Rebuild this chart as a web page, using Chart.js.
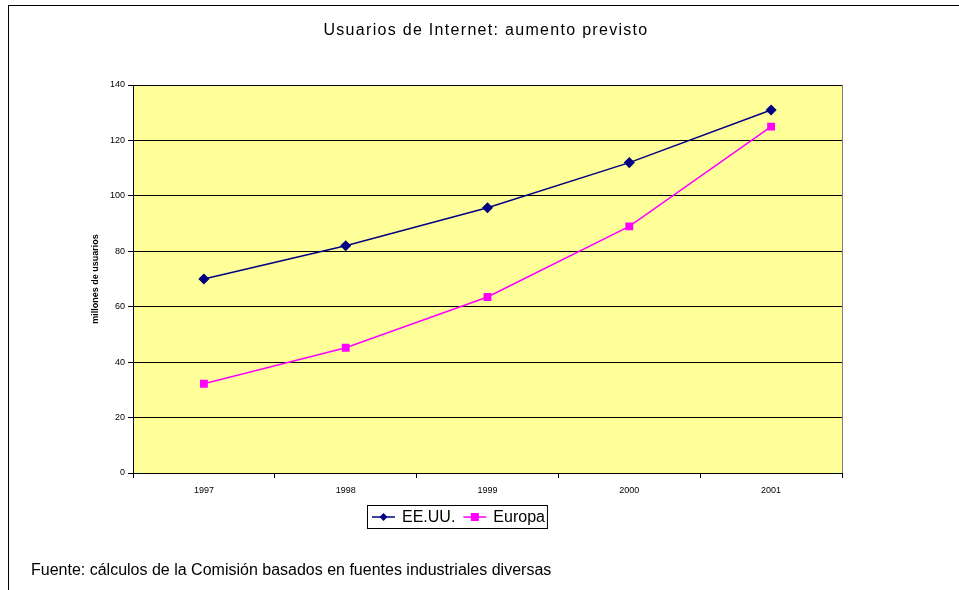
<!DOCTYPE html>
<html>
<head>
<meta charset="utf-8">
<script src="https://cdn.jsdelivr.net/npm/chart.js@4"></script>
<style>
  html, body { margin: 0; padding: 0; background: #fff; }
  #wrap { width: 959px; height: 590px; }
</style>
</head>
<body>
<div id="wrap"><canvas id="chart" width="959" height="590"></canvas></div>
<script>
const years = ['1997', '1998', '1999', '2000', '2001'];
const usa = [70, 82, 95.7, 112, 131];
const europa = [32.2, 45.2, 63.5, 89, 125];
const title = 'Usuarios de Internet: aumento previsto';
const yTitle = 'millones de usuarios';
const source = 'Fuente: cálculos de la Comisión basados en fuentes industriales diversas';

const FONT = 'Arial, "Liberation Sans", sans-serif';

// background, border, title, legend and source note
const decor = {
    id: 'decor',
    beforeDraw(chart) {
        const { ctx, chartArea: a } = chart;
        ctx.save();
        ctx.fillStyle = '#fff';
        ctx.fillRect(0, 0, chart.width, chart.height);
        ctx.strokeStyle = '#000';
        ctx.lineWidth = 1;
        ctx.strokeRect(8.5, 5.5, 1000, 1000);
        ctx.fillStyle = '#FFFF99';
        ctx.fillRect(a.left, a.top, a.right - a.left, a.bottom - a.top);
        ctx.restore();
    },
    afterDraw(chart) {
        const { ctx, chartArea: a } = chart;
        ctx.save();
        // plot frame right side
        ctx.strokeStyle = '#808080';
        ctx.beginPath();
        ctx.moveTo(Math.round(a.right) + 0.5, a.top);
        ctx.lineTo(Math.round(a.right) + 0.5, a.bottom);
        ctx.stroke();

        ctx.fillStyle = '#000';
        ctx.font = '16px ' + FONT;
        ctx.letterSpacing = '1.3px';
        ctx.textAlign = 'center';
        ctx.textBaseline = 'middle';
        ctx.fillText(title, 486, 31);
        ctx.letterSpacing = '0px';

        ctx.font = '16px ' + FONT;
        ctx.textAlign = 'left';
        ctx.fillText(source, 31, 571);

        // legend
        ctx.font = '16px ' + FONT;
        const bx = 367, by = 505, bh = 23;
        let x = bx + 5;
        const cy = by + bh / 2 + 0.5;
        const items = chart.data.datasets.map(ds => ({ ds, w: ctx.measureText(ds.label).width }));
        const bw = items.reduce((s, it) => s + 30 + it.w + 8, 0) - 1;
        ctx.strokeStyle = '#000';
        ctx.lineWidth = 1;
        ctx.strokeRect(bx + 0.5, by + 0.5, bw, bh);
        items.forEach(({ ds, w }) => {
            ctx.strokeStyle = ds.borderColor;
            ctx.lineWidth = 1.5;
            ctx.beginPath();
            ctx.moveTo(x, cy);
            ctx.lineTo(x + 23, cy);
            ctx.stroke();
            ctx.fillStyle = ds.pointBackgroundColor;
            const mx = x + 11.5;
            if (ds.pointStyle === 'rectRot') {
                ctx.beginPath();
                ctx.moveTo(mx, cy - 4);
                ctx.lineTo(mx + 4, cy);
                ctx.lineTo(mx, cy + 4);
                ctx.lineTo(mx - 4, cy);
                ctx.closePath();
                ctx.fill();
            } else {
                ctx.fillRect(mx - 4, cy - 4, 8, 8);
            }
            ctx.fillStyle = '#000';
            ctx.fillText(ds.label, x + 30, cy + 1);
            x += 30 + w + 8;
        });
        ctx.restore();
    }
};

new Chart(document.getElementById('chart'), {
    type: 'line',
    data: {
        labels: years,
        datasets: [
            { label: 'EE.UU.', data: usa, borderColor: '#000080', backgroundColor: '#000080',
              pointBackgroundColor: '#000080', pointBorderColor: '#000080', pointStyle: 'rectRot',
              pointRadius: 4.5, borderWidth: 1.5, tension: 0 },
            { label: 'Europa', data: europa, borderColor: '#FF00FF', backgroundColor: '#FF00FF',
              pointBackgroundColor: '#FF00FF', pointBorderColor: '#FF00FF', pointStyle: 'rect',
              pointRadius: 4.5, borderWidth: 1.5, tension: 0 }
        ]
    },
    options: {
        responsive: false,
        animation: false,
        devicePixelRatio: 1,
        layout: { padding: { left: 86, right: 117, top: 85, bottom: 87 } },
        plugins: { legend: { display: false }, title: { display: false }, tooltip: { enabled: false } },
        scales: {
            x: {
                offset: true,
                grid: { offset: true, drawOnChartArea: false, tickLength: 5, color: '#000' },
                border: { color: '#000' },
                ticks: { color: '#000', font: { family: FONT, size: 9 }, padding: 7, maxRotation: 0 },
                afterFit(s) { s.height = 30; }
            },
            y: {
                min: 0, max: 140,
                grid: { color: '#000', tickLength: 5 },
                border: { color: '#000' },
                ticks: { stepSize: 20, color: '#000', font: { family: FONT, size: 9 }, padding: 3 },
                title: { display: true, text: yTitle, color: '#000', font: { family: FONT, size: 9, weight: 'bold' }, padding: 4 },
                afterFit(s) { s.width = 47; }
            }
        }
    },
    plugins: [decor]
});
</script>
</body>
</html>
